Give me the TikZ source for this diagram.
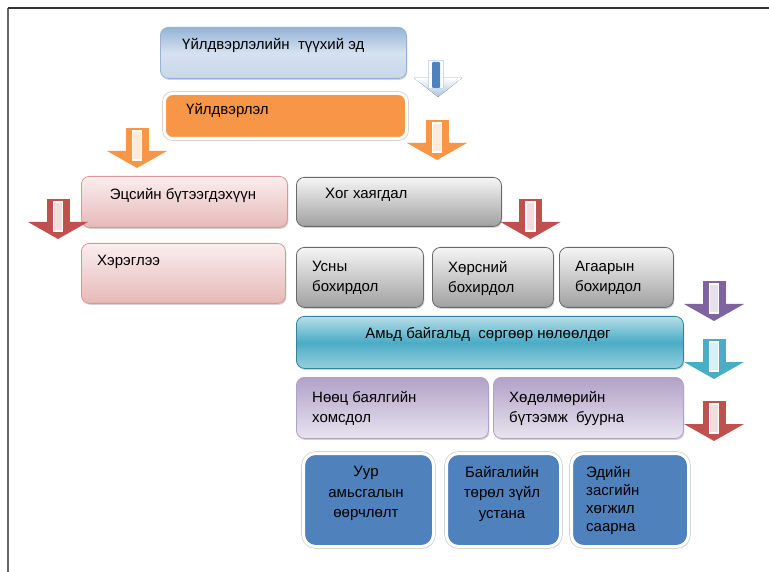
\documentclass[tikz,border=0pt]{standalone}
\usepackage{fontspec}
\setmainfont{Liberation Sans}
\usetikzlibrary{shadows}
\definecolor{rawtop}{RGB}{149,179,215}
\definecolor{rawmid}{RGB}{214,225,240}
\definecolor{rawbot}{RGB}{200,215,235}
\definecolor{prodorange}{RGB}{247,150,70}
\definecolor{pinktop}{RGB}{250,238,238}
\definecolor{pinkbot}{RGB}{230,185,184}
\definecolor{pinkedge}{RGB}{217,150,148}
\definecolor{greytop}{RGB}{245,245,245}
\definecolor{greybot}{RGB}{160,160,160}
\definecolor{greyedge}{RGB}{105,105,105}
\definecolor{tealtop}{RGB}{183,222,232}
\definecolor{tealmid}{RGB}{75,172,198}
\definecolor{tealbot}{RGB}{150,207,222}
\definecolor{tealedge}{RGB}{49,133,155}
\definecolor{lavtop}{RGB}{178,161,199}
\definecolor{lavbot}{RGB}{232,228,239}
\definecolor{deepblue}{RGB}{79,129,189}
\definecolor{arrred}{RGB}{192,80,77}
\definecolor{arrpurple}{RGB}{128,100,162}

% block arrow: #1 top centre, #2 colour
\newcommand{\blockarrow}[2]{%
  \begin{scope}[shift={#1}]
    \fill[#2] (-11.5,0) rectangle (11.5,24);
    \fill[#2] (-30,23) -- (30,23) -- (0,40) -- cycle;
    \fill[#2!20] (-4.5,3) rectangle (4.5,32);
    \draw[white,line width=1.3pt] (-4.5,3) rectangle (4.5,32);
  \end{scope}}

\begin{document}
\begin{tikzpicture}[x=1pt,y=-1pt,
  box/.style={rounded corners=8pt, anchor=north west, inner sep=0pt, line width=0.8pt,
    drop shadow={shadow xshift=1pt, shadow yshift=-1.5pt, opacity=0.35}},
  rimbox/.style={box, rounded corners=12pt, draw=white, line width=3pt,
    drop shadow={shadow xshift=1.2pt, shadow yshift=-1.8pt, fill=black!40, opacity=0.6},
    preaction={draw=black!18, line width=4.6pt}},
  txt/.style={inner sep=0pt, font=\fontsize{15}{20}\selectfont, align=left, anchor=north west},
  ctxt/.style={txt, align=center, anchor=north}]
  \useasboundingbox (0,0) rectangle (769,572);
  \fill[white] (0,0) rectangle (769,572);
  \draw[black!60, line width=1.3pt] (8,572) -- (8,8);
  \draw[black!80, line width=1.3pt] (8,8) -- (769,8);

  % top chain
  \node[box, draw=rawtop, top color=rawtop, bottom color=rawbot, middle color=rawmid,
    minimum width=246pt, minimum height=51pt] (raw) at (160,27) {};
  \node[txt] (rawt) at (182,38) {Үйлдвэрлэлийн\ \ түүхий эд};
  \node[rimbox, rounded corners=8pt, fill=prodorange, minimum width=242pt, minimum height=45pt] (prod) at (163,92) {};
  \node[txt] (prodt) at (186,103) {Үйлдвэрлэл};

  % first arrow
  \fill[top color=white, bottom color=rawtop!80] (414,78) -- (462,78) -- (438,97) -- cycle;
  \fill[white, draw=rawtop!50] (428.5,60) rectangle (443.5,88);
  \fill[deepblue, rounded corners=1pt] (432,62) rectangle (440,88);

  \blockarrow{(137,128)}{prodorange}
  \blockarrow{(437,120)}{prodorange}

  % products and waste
  \node[box, draw=pinkedge, top color=pinktop, bottom color=pinkbot,
    minimum width=206pt, minimum height=51pt] (final) at (81,176) {};
  \node[ctxt] (finalt) at (183,188) {Эцсийн бүтээгдэхүүн};
  \node[box, draw=pinkedge, top color=pinktop, bottom color=pinkbot,
    minimum width=204pt, minimum height=60pt] (use) at (81,243) {};
  \node[txt] (uset) at (97,255) {Хэрэглээ};
  \node[box, draw=greyedge, top color=greytop, bottom color=greybot,
    minimum width=205pt, minimum height=49pt] (waste) at (296,177) {};
  \node[txt] (wastet) at (325,188) {Хог хаягдал};

  \blockarrow{(58,199)}{arrred}
  \blockarrow{(530.5,199)}{arrred}

  % pollution
  \node[box, draw=greyedge, top color=greytop, bottom color=greybot,
    minimum width=127pt, minimum height=60pt] (water) at (296,247) {};
  \node[txt] (watert) at (312,261) {Усны\\бохирдол};
  \node[box, draw=greyedge, top color=greytop, bottom color=greybot,
    minimum width=121pt, minimum height=60pt] (soil) at (432,247) {};
  \node[txt] (soilt) at (448,261) {Хөрсний\\бохирдол};
  \node[box, draw=greyedge, top color=greytop, bottom color=greybot,
    minimum width=114pt, minimum height=60pt] (air) at (559,247) {};
  \node[txt] (airt) at (575,261) {Агаарын\\бохирдол};

  \blockarrow{(714,281)}{arrpurple}

  \node[box, draw=tealedge, top color=tealtop, bottom color=tealbot, middle color=tealmid,
    minimum width=387pt, minimum height=52pt] (eco) at (296,316) {};
  \node[ctxt] (ecot) at (488,327) {Амьд байгальд\ \ сөргөөр нөлөөлдөг};

  \blockarrow{(714,339)}{tealmid}

  \node[box, draw=lavtop, top color=lavtop, bottom color=lavbot,
    minimum width=192pt, minimum height=61pt] (res) at (296,377) {};
  \node[txt] (rest) at (312,391) {Нөөц баялгийн\\хомсдол};
  \node[box, draw=lavtop, top color=lavtop, bottom color=lavbot,
    minimum width=190pt, minimum height=61pt] (labour) at (493,377) {};
  \node[txt] (labourt) at (509,391) {Хөдөлмөрийн\\бүтээмж\ \ буурна};

  \blockarrow{(714,401)}{arrred}

  % consequences
  \node[rimbox, fill=deepblue, minimum width=130pt, minimum height=93pt] (climate) at (302,452) {};
  \node[ctxt, font=\fontsize{15}{20.5}\selectfont] (climatet) at (366,466) {Уур\\амьсгалын\\өөрчлөлт};
  \node[rimbox, fill=deepblue, minimum width=114pt, minimum height=93pt] (species) at (445,452) {};
  \node[ctxt, font=\fontsize{15}{20.5}\selectfont] (speciest) at (502,466) {Байгалийн\\төрөл зүйл\\устана};
  \node[rimbox, fill=deepblue, minimum width=117pt, minimum height=93pt] (econ) at (570,452) {};
  \node[txt, font=\fontsize{15}{18}\selectfont] (econt) at (586,466) {Эдийн\\засгийн\\хөгжил\\саарна};
\end{tikzpicture}
\end{document}
